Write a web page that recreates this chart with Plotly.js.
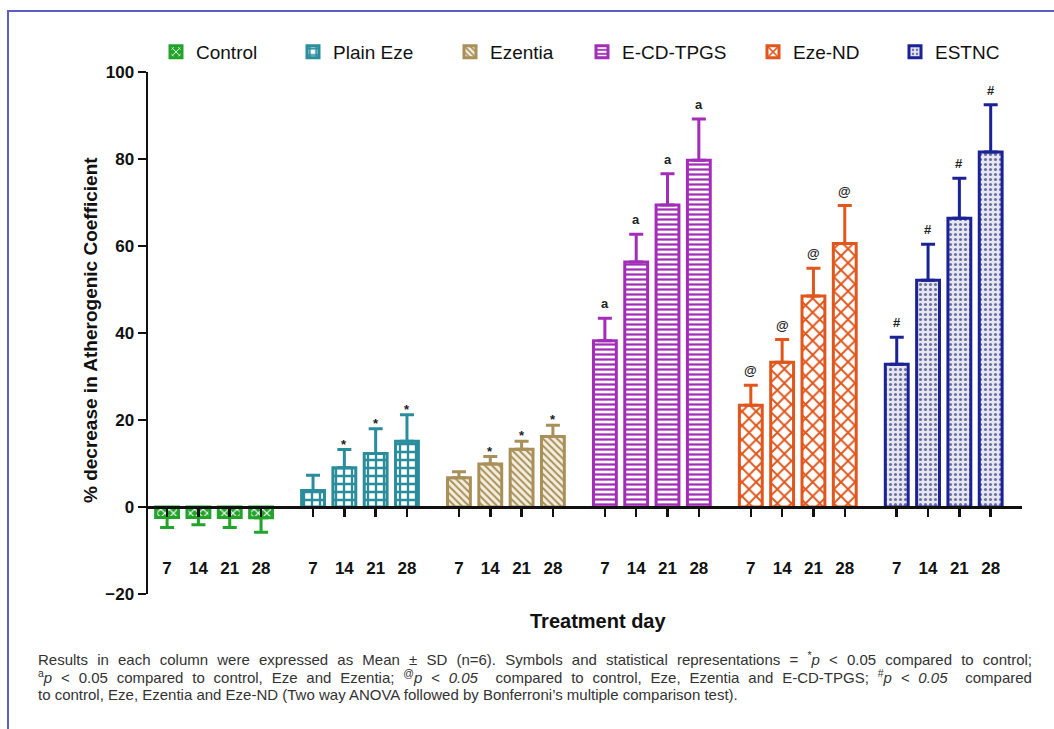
<!DOCTYPE html>
<html>
<head>
<meta charset="utf-8">
<script src="https://cdn.plot.ly/plotly-3.0.1.min.js"></script>
<style>
  html, body { margin:0; padding:0; background:#fff; overflow:hidden; }
  #frame { position:absolute; left:7px; top:10px; width:1200px; height:900px;
           border-top:2px solid #5d5dc8; border-left:2px solid #5d5dc8; pointer-events:none; z-index:5; }
  #chart { position:absolute; left:0; top:0; width:1054px; height:729px; }
</style>
</head>
<body>
<div id="chart"></div>
<div id="frame"></div>
<script>
// ---------------- data ----------------
const days = ['7', '14', '21', '28'];
const groups = ['Control', 'Plain Eze', 'Ezentia', 'E-CD-TPGS', 'Eze-ND', 'ESTNC'];

const controlMean = [-2.4, -2.4, -2.4, -2.5];
const controlSD   = [2.3, 1.7, 2.3, 3.3];
const plainEzeMean = [3.8, 9.0, 12.3, 15.1];
const plainEzeSD   = [3.5, 4.2, 5.7, 6.1];
const ezentiaMean = [6.7, 9.9, 13.3, 16.2];
const ezentiaSD   = [1.4, 1.7, 1.8, 2.6];
const ecdTpgsMean = [38.2, 56.3, 69.4, 79.7];
const ecdTpgsSD   = [5.2, 6.4, 7.2, 9.5];
const ezeNDMean = [23.4, 33.3, 48.5, 60.6];
const ezeNDSD   = [4.6, 5.2, 6.4, 8.7];
const estncMean = [32.8, 52.1, 66.4, 81.6];
const estncSD   = [6.2, 8.3, 9.2, 10.9];

const controlSig  = ['', '', '', ''];
const plainEzeSig = ['', '*', '*', '*'];
const ezentiaSig  = ['', '*', '*', '*'];
const ecdTpgsSig  = ['a', 'a', 'a', 'a'];
const ezeNDSig    = ['@', '@', '@', '@'];
const estncSig    = ['#', '#', '#', '#'];

const xTitle = 'Treatment day';
const yTitle = '% decrease in Atherogenic Coefficient';
const footnoteLines = [
  'Results in each column were expressed as Mean ± SD (n=6). Symbols and statistical representations = <sup>*</sup><i>p</i> &lt; 0.05 compared to control;',
  '<sup>a</sup><i>p</i> &lt; 0.05 compared to control, Eze and Ezentia; <sup>@</sup><i>p &lt; 0.05</i>  compared to control, Eze, Ezentia and E-CD-TPGS; <sup>#</sup><i>p &lt; 0.05</i>  compared',
  'to control, Eze, Ezentia and Eze-ND (Two way ANOVA followed by Bonferroni’s multiple comparison test).'
];

// ---------------- styles ----------------
const means = [controlMean, plainEzeMean, ezentiaMean, ecdTpgsMean, ezeNDMean, estncMean];
const sds = [controlSD, plainEzeSD, ezentiaSD, ecdTpgsSD, ezeNDSD, estncSD];
const sigs = [controlSig, plainEzeSig, ezentiaSig, ecdTpgsSig, ezeNDSig, estncSig];
const colors = ['#22a32a', '#2a8d9c', '#a89058', '#a32cb8', '#e0561c', '#1a2296'];
const patterns = [
  {shape: 'x', fgcolor: '#ffffff', bgcolor: '#22a32a', size: 6, solidity: 0.35},
  {shape: '+', fgcolor: '#2a8d9c', bgcolor: '#ffffff', size: 8, solidity: 0.5},
  {shape: '\\', fgcolor: '#a89058', bgcolor: '#f3eee0', size: 5, solidity: 0.4},
  {shape: '-', fgcolor: '#a32cb8', bgcolor: '#ffffff', size: 5, solidity: 0.45},
  {shape: 'x', fgcolor: '#e0561c', bgcolor: '#ffffff', size: 10, solidity: 0.35},
  {shape: '.', fgcolor: '#6a6fa6', bgcolor: '#e6e7ef', size: 5, solidity: 0.3}
];
const GROUP_STEP = 4.66;
const legendTextX = [196, 333, 490, 622, 793, 935];
const footnoteY = [658, 676, 694];
const footnoteJustify = [true, true, false];
const FOOT_LEFT = 36, FOOT_RIGHT = 1030;

const L = 148, R = 32, T = 72, B = 135, W = 1054, H = 729;
const PW = W - L - R, PH = H - T - B;
const XMIN = -0.61, XMAX = 27.3;
const px2x = p => (p - L) / PW;
const py2y = p => (H - B - p) / PH;

const font = 'Liberation Sans, Arial, sans-serif';
const traces = [];
const annotations = [];
const tickvals = [], ticktext = [];
const layoutLegends = {};

groups.forEach((g, gi) => {
  const xs = days.map((d, di) => gi * GROUP_STEP + di);
  xs.forEach((x, di) => { tickvals.push(x); ticktext.push(days[di]); });
  const m = means[gi], s = sds[gi];
  const plus = m.map((v, i) => v >= 0 ? s[i] : 0);
  const minus = m.map((v, i) => v < 0 ? s[i] : 0);
  const legName = gi === 0 ? 'legend' : 'legend' + (gi + 1);
  traces.push({
    type: 'bar', name: g, x: xs, y: m, width: 0.73,
    legend: legName,
    marker: {color: colors[gi], line: {color: colors[gi], width: 3}, pattern: patterns[gi]},
    error_y: {type: 'data', symmetric: false, array: plus, arrayminus: minus,
              color: colors[gi], thickness: 3, width: 7},
    hoverinfo: 'skip'
  });
  layoutLegends[legName] = {
    x: px2x(legendTextX[gi] - 40), xanchor: 'left',
    y: py2y(52), yanchor: 'middle', orientation: 'h',
    font: {family: font, size: 19, color: '#111'}, bgcolor: 'rgba(0,0,0,0)', borderwidth: 0
  };
  m.forEach((v, i) => {
    const lab = sigs[gi][i];
    if (!lab) return;
    annotations.push({
      x: xs[i], y: v + s[i], xref: 'x', yref: 'y', text: '<b>' + lab + '</b>',
      showarrow: false, yanchor: 'bottom', yshift: lab === '*' ? -4 : 5,
      font: {family: font, size: 13, color: '#222'}
    });
  });
});

annotations.push({
  text: '<b>' + yTitle + '</b>', textangle: -90,
  xref: 'paper', yref: 'paper', x: px2x(90), y: py2y(330), xanchor: 'center', yanchor: 'middle',
  showarrow: false, font: {family: font, size: 19, color: '#111'}
});
annotations.push({
  text: '<b>' + xTitle + '</b>',
  xref: 'paper', yref: 'paper', x: px2x(598), y: py2y(621), xanchor: 'center', yanchor: 'middle',
  showarrow: false, font: {family: font, size: 20, color: '#111'}
});
const footStart = annotations.length;
footnoteLines.forEach((t, i) => {
  annotations.push({
    text: t,
    xref: 'paper', yref: 'paper', x: px2x(FOOT_LEFT), y: py2y(footnoteY[i]),
    xanchor: 'left', yanchor: 'middle', align: 'left',
    showarrow: false, font: {family: font, size: 15, color: '#333'}
  });
});

const layout = Object.assign({
  width: W, height: H,
  margin: {l: L, r: R, t: T, b: B},
  paper_bgcolor: '#ffffff', plot_bgcolor: '#ffffff',
  barmode: 'overlay',
  showlegend: true,
  xaxis: {
    range: [XMIN, XMAX], anchor: 'free', position: 20 / 120,
    showline: true, linecolor: '#111', linewidth: 2.5,
    ticks: 'outside', ticklen: 8, tickwidth: 2.5, tickcolor: '#111',
    tickmode: 'array', tickvals: tickvals, ticktext: ticktext,
    ticklabelstandoff: 37,
    tickfont: {family: font, size: 17, color: '#111', weight: 'bold'},
    showgrid: false, zeroline: false, fixedrange: true
  },
  yaxis: {
    range: [-20, 100], dtick: 20, tick0: 0,
    showline: true, linecolor: '#111', linewidth: 2.5,
    ticks: 'outside', ticklen: 8, tickwidth: 2.5, tickcolor: '#111',
    tickfont: {family: font, size: 17, color: '#111', weight: 'bold'},
    showgrid: false, zeroline: false, fixedrange: true
  },
  annotations: annotations
}, layoutLegends);

function justifyFootnotes(gd) {
  footnoteLines.forEach((line, i) => {
    if (!footnoteJustify[i]) return;
    const el = gd.querySelector('.annotation[data-index="' + (footStart + i) + '"] text.annotation-text');
    if (!el) return;
    const target = FOOT_RIGHT - FOOT_LEFT;
    const bb0 = el.getBBox().width;
    const spaces = (el.textContent.match(/[ \u00A0]/g) || []).length;
    if (spaces > 0 && bb0 < target) {
      const ws = (target - bb0) / spaces;
      el.setAttribute('word-spacing', ws.toFixed(2));
      el.style.wordSpacing = ws.toFixed(2) + 'px';
      const bb1 = el.getBBox().width;
      if (Math.abs(bb1 - bb0) < 2) {
        el.style.wordSpacing = '';
        el.removeAttribute('word-spacing');
        el.setAttribute('textLength', target);
        el.setAttribute('lengthAdjust', 'spacing');
      }
    }
  });
}

Plotly.newPlot('chart', traces, layout, {displayModeBar: false, staticPlot: true}).then(gd => {
  justifyFootnotes(gd);
});
</script>
</body>
</html>
